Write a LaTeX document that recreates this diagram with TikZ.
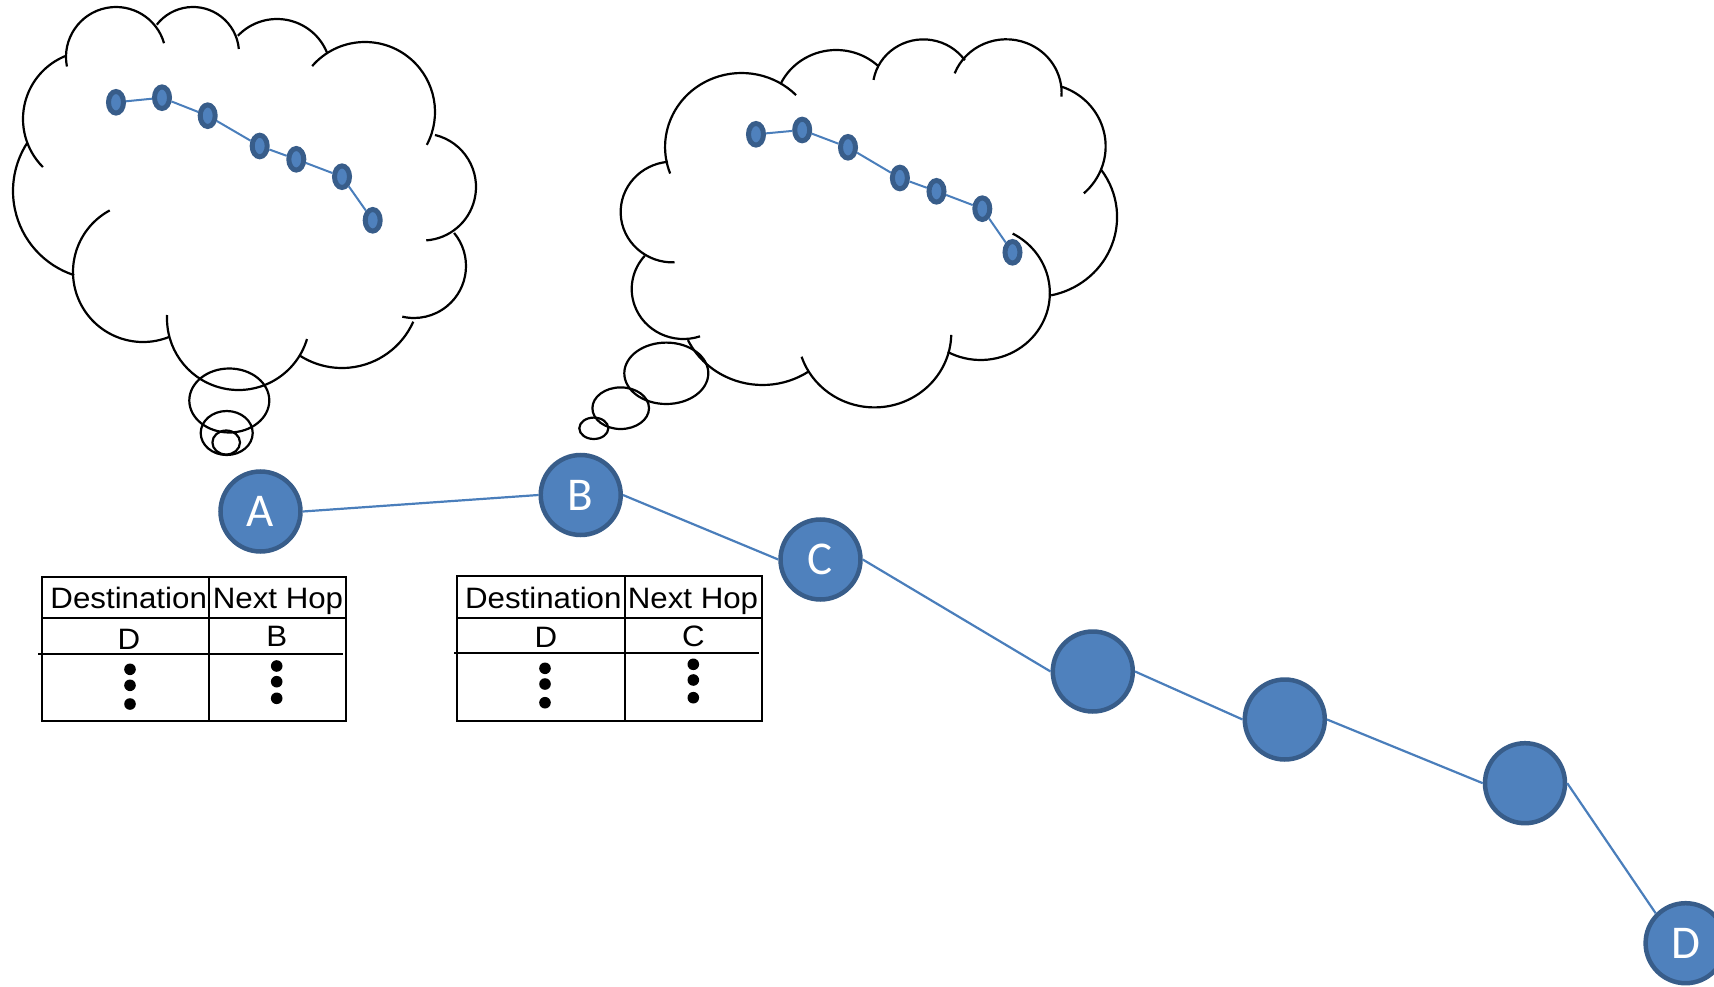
\documentclass[tikz,border=0pt]{standalone}
\usepackage{fontspec}
\setmainfont{Liberation Sans}
\newfontfamily\routerfont{Carlito}
\newfontfamily\tablefont[FakeStretch=1.06]{Liberation Sans}
\usetikzlibrary{shapes.geometric}
\definecolor{nodefill}{HTML}{4F81BD}
\definecolor{nodeedge}{HTML}{385D8A}
\definecolor{linkblue}{HTML}{4A7EBB}
% one bump of a thought cloud: centre x, centre y, x radius, y radius, start angle, end angle
\newcommand\cloudarc[6]{\draw[cloudline] (#1,#2) ++(#5:#3 and #4) arc[start angle=#5,end angle=#6,x radius=#3,y radius=#4];}
\newcommand\tabledot[2]{\fill (#1,#2) circle[radius=5.8];}

\begin{document}
\begin{tikzpicture}[x=1pt,y=-1pt,
  router/.style={circle, draw=nodeedge, fill=nodefill, line width=4.5pt,
    minimum size=80pt, inner sep=0pt, text=white,
    font=\routerfont\fontsize{47}{56}\selectfont},
  link/.style={draw=linkblue, line width=2.2pt},
  minihop/.style={ellipse, draw=nodeedge, fill=nodefill, line width=5pt,
    minimum width=15pt, minimum height=21.6pt, inner sep=0pt},
  minilink/.style={draw=linkblue, line width=2pt},
  cloudline/.style={draw=black, line width=2.2pt},
  gridline/.style={draw=black, line width=2pt},
  celltext/.style={font=\tablefont\fontsize{29.5}{36}\selectfont, inner sep=0pt, anchor=base}
]
\useasboundingbox (0,0) rectangle (1714,987);

% ---------- thought cloud above A ----------
\cloudarc{116}{57}{50}{50}{169}{344}
\cloudarc{193}{53}{46}{46}{218}{355}
\cloudarc{277}{73}{54}{54}{223.5}{338}
\cloudarc{365}{112}{70}{70}{221}{388}
\cloudarc{422.5}{187}{53.5}{53.5}{283.5}{446}
\cloudarc{414}{266}{52}{52}{320.5}{463}
\cloudarc{342}{290}{78}{78}{24}{122.5}
\cloudarc{238.5}{318.5}{71.5}{71.5}{16.7}{182.8}
\cloudarc{143}{272}{70}{70}{67.7}{241.6}
\cloudarc{101.5}{191}{88.5}{88.5}{108}{212.8}
\cloudarc{91}{119}{68}{68}{135}{247.6}
\draw[cloudline] (229.3,400.5) ellipse[x radius=40, y radius=32];
\draw[cloudline] (226.7,433) ellipse[x radius=26, y radius=22];
\draw[cloudline] (226.2,442.5) ellipse[x radius=13.8, y radius=12];

% path known to A
\node[minihop] (a1) at (116,102.3) {};
\node[minihop] (a2) at (162,97.7) {};
\node[minihop] (a3) at (207.7,115.7) {};
\node[minihop] (a4) at (259.7,146) {};
\node[minihop] (a5) at (296.3,159.3) {};
\node[minihop] (a6) at (342,176.7) {};
\node[minihop] (a7) at (372.7,220.3) {};
\draw[minilink] (a1) -- (a2) -- (a3) -- (a4) -- (a5) -- (a6) -- (a7);

% ---------- thought cloud above B ----------
\cloudarc{741.54}{147}{76.45}{74}{159}{315.5}
\cloudarc{836.18}{109.6}{61.58}{59.6}{206}{313}
\cloudarc{923.38}{88.4}{50.62}{49}{190}{325}
\cloudarc{1006.24}{92.9}{55.38}{53.6}{201.4}{364}
\cloudarc{1040.54}{146.3}{65.09}{63}{288.8}{408.3}
\cloudarc{1034.44}{217}{82.65}{80}{324}{438.3}
\cloudarc{980.62}{293}{69.22}{67}{297.6}{478.4}
\cloudarc{874.41}{333}{76.87}{74.4}{1.5}{161.4}
\cloudarc{762.52}{304.5}{83.17}{80.5}{56.5}{153.8}
\cloudarc{683.38}{289}{51.66}{50}{71.2}{221.7}
\cloudarc{672.73}{212}{52.07}{50.4}{87.8}{264.7}
\draw[cloudline] (666.3,373.3) ellipse[x radius=42, y radius=30.7];
\draw[cloudline] (620.7,408.2) ellipse[x radius=28.3, y radius=20.8];
\draw[cloudline] (593.8,428.3) ellipse[x radius=14.5, y radius=10.7];

% path known to B
\node[minihop] (b1) at (756,134.3) {};
\node[minihop] (b2) at (802.2,130) {};
\node[minihop] (b3) at (848,147.3) {};
\node[minihop] (b4) at (899.9,178) {};
\node[minihop] (b5) at (936.5,191.3) {};
\node[minihop] (b6) at (982.3,208.7) {};
\node[minihop] (b7) at (1012.5,252.3) {};
\draw[minilink] (b1) -- (b2) -- (b3) -- (b4) -- (b5) -- (b6) -- (b7);

% ---------- routers ----------
\node[router] (A) at (260.5,511.5) {A};
\node[router] (B) at (580.7,495) {B};
\node[router] (C) at (820.5,559.5) {C};
\node[router] (R4) at (1092.8,671.5) {};
\node[router] (R5) at (1284.8,719.5) {};
\node[router] (R6) at (1525,783.2) {};
\node[router] (D) at (1685.6,943.2) {D};
\draw[link] (A.east) -- (B.west);
\draw[link] (B.east) -- (C.west);
\draw[link] (C.east) -- (R4.west);
\draw[link] (R4.east) -- (R5.west);
\draw[link] (R5.east) -- (R6.west);
\draw[link] (R6.east) -- (D.north west);

% ---------- routing table of A ----------
\draw[gridline] (42.3,576.7) rectangle (346,721);
\draw[gridline] (209.3,576.7) -- (209.3,721);
\draw[gridline] (42.3,618.3) -- (346,618.3);
\draw[gridline] (38.3,654) -- (343,654);
\node[celltext] (ta1) at (128.7,608) {Destination};
\node[celltext] (ta2) at (278,608) {Next Hop};
\node[celltext] (ta3) at (129,649) {D};
\node[celltext] (ta4) at (276.7,646) {B};
\tabledot{130}{669.3}\tabledot{130}{685.3}\tabledot{130}{704}
\tabledot{276.7}{666}\tabledot{276.7}{681.7}\tabledot{276.7}{698.3}

% ---------- routing table of B ----------
\draw[gridline] (457.3,575.7) rectangle (761.7,721);
\draw[gridline] (625,575.7) -- (625,721);
\draw[gridline] (457.3,618.3) -- (761.7,618.3);
\draw[gridline] (454,652.7) -- (759,652.7);
\node[celltext] (tb1) at (543.3,608.3) {Destination};
\node[celltext] (tb2) at (693,608.3) {Next Hop};
\node[celltext] (tb3) at (546,647.3) {D};
\node[celltext] (tb4) at (693.3,646) {C};
\tabledot{545}{668.3}\tabledot{545}{684}\tabledot{545}{702.7}
\tabledot{693.3}{664.3}\tabledot{693.3}{680}\tabledot{693.3}{697.7}
\end{tikzpicture}
\end{document}
